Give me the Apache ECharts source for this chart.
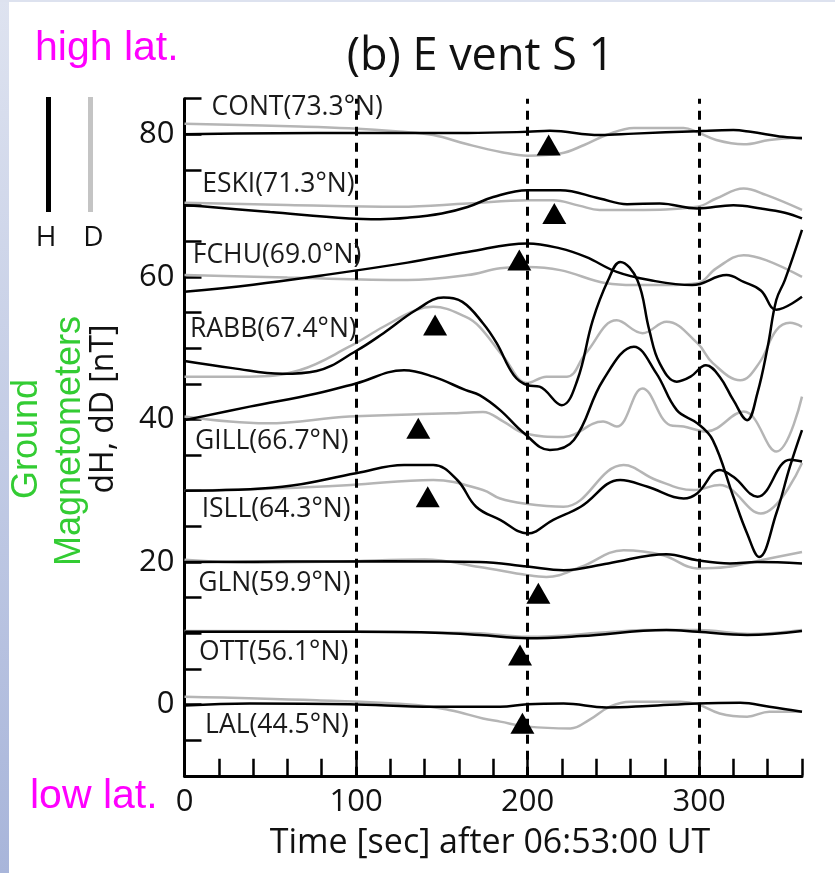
<!DOCTYPE html>
<html><head><meta charset="utf-8">
<script src="https://cdn.jsdelivr.net/npm/echarts@6/dist/echarts.min.js"></script>
<style>html,body{margin:0;padding:0;background:#fff}#c{width:835px;height:873px}</style>
</head><body><div id="c"></div>
<script>
// ---- data (time [s], value [nT] incl. station offset) ----
const stations = ['CONT(73.3°N)','ESKI(71.3°N)','FCHU(69.0°N)','RABB(67.4°N)','GILL(66.7°N)','ISLL(64.3°N)','GLN(59.9°N)','OTT(56.1°N)','LAL(44.5°N)'];
const labelAnchors = [[15.8,83.75],[10.4,73.0],[4.8,63.06],[3.2,52.68],[6.1,36.87],[10.0,27.43],[8.0,17.0],[8.5,7.32],[12.0,-2.97]];
const onsets = [[212.3,78.5],[215.6,68.9],[195.2,62.36],[146.1,53.24],[136.3,38.75],[141.8,29.15],[206.3,15.6],[195.6,6.94],[197,-2.64]];
const xLabelValues = [0,100,200,300];
const yLabelValues = [0,20,40,60,80];
const dashedTimes = [100,200,300];

const contH = [[0,80.0],[30,80.1],[125,80.2],[165,80.2],[200,80.35],[213,80.5],[242,79.9],[262,80.1],[299,80.45],[320,80.6],[330,80.35],[349,79.65],[360,79.45]];
const contD = [[0,81.5],[67,81.1],[96,80.85],[125,80.4],[145,79.9],[165,78.6],[185,77.5],[200,77.0],[219,77.3],[233,78.5],[246,79.9],[262,80.9],[291,80.9],[299,80.3],[310,79.2],[326,78.6],[341,79.2],[360,79.6]];
const eskiH = [[0,70.05],[10,69.9],[50,69.1],[96,68.2],[114,68.1],[130,68.3],[150,68.9],[165,69.8],[180,71.2],[200,72.15],[219,72.15],[242,71.0],[258,70.2],[277,70.3],[299,69.6],[320,70.05],[336,69.6],[350,69.0],[360,68.2]];
const eskiD = [[0,70.4],[60,70.1],[125,69.85],[165,70.3],[200,70.75],[215,70.75],[230,70.0],[242,69.4],[262,69.4],[299,69.85],[310,71.0],[326,72.4],[339,71.5],[360,69.4]];
const fchuH = [[0,57.9],[40,58.9],[80,60.2],[130,62.0],[165,63.5],[200,64.7],[219,64.0],[234,62.8],[252,60.7],[271,59.55],[296,58.85],[316,60.25],[326,59.3],[336,58.1],[345,55.4],[360,57.2]];
const fchuD = [[0,60.25],[60,59.9],[130,59.55],[165,60.25],[184,61.2],[200,61.4],[219,60.95],[246,59.1],[262,58.85],[281,58.85],[299,59.1],[310,61.2],[326,63.05],[339,62.35],[360,60.0]];
const rabbH = [[0,48.2],[28,47.2],[57,46.4],[77,46.8],[100,49.6],[116,52.1],[135,55.35],[151,57.1],[162,56.5],[174,53.5],[182,50.7],[192,46.2],[200,44.8],[207,44.6],[220,42.0],[229,45.5],[238,53.9],[247,59.55],[254,62.1],[264,59.55],[271,52.5],[277,47.9],[287,45.3],[295,46.0],[304,47.6],[312,46.0],[320,42.7],[328,39.9],[334,43.7],[340,50.2],[345,56.75],[350,59.55],[360,66.6]];
const rabbD = [[0,46.0],[38,46.0],[67,46.9],[96,50.2],[116,53.0],[135,55.35],[145,55.8],[164,54.4],[172,53.0],[186,48.8],[200,45.1],[211,46.0],[223,46.0],[234,49.3],[252,53.9],[267,52.1],[281,53.7],[299,50.7],[308,47.9],[324,45.5],[335,47.9],[345,52.5],[353,53.55],[360,53.0]];
const gillH = [[0,39.9],[38,41.8],[77,43.65],[100,45.05],[128,46.9],[145,46.0],[164,44.1],[172,43.4],[184,41.3],[198,38.05],[213,35.7],[227,37.1],[244,45.5],[262,50.2],[275,46.5],[287,41.3],[299,39.45],[308,37.1],[320,29.15],[328,24.0],[335,20.7],[345,26.8],[353,33.4],[360,38.5]];
const gillD = [[0,40.4],[48,39.45],[96,40.4],[155,40.85],[174,41.05],[186,39.7],[198,38.05],[221,37.55],[244,39.7],[252,39.0],[267,44.35],[283,39.2],[291,39.0],[304,38.3],[326,41.1],[345,35.5],[360,43.2]];
const isllH = [[0,30.0],[57,30.55],[100,32.45],[128,33.6],[145,33.6],[159,31.5],[170,27.75],[184,25.9],[200,24.0],[215,25.9],[231,27.75],[254,31.5],[270,30.55],[291,28.9],[299,29.65],[312,32.9],[320,31.95],[334,29.15],[353,34.35],[360,34.1]];
const isllD = [[0,30.0],[57,30.35],[97,30.8],[145,31.5],[174,30.1],[184,28.9],[198,28.2],[221,27.75],[256,33.6],[275,31.5],[297,30.1],[312,30.8],[336,26.8],[360,33.9]];
const glnH = [[0,20.0],[60,20.05],[120,20.1],[172,20.0],[200,19.35],[221,18.85],[247,19.8],[281,21.1],[299,20.25],[318,19.8],[334,20.0],[360,19.8]];
const glnD = [[0,20.3],[40,19.9],[90,20.05],[140,20.35],[172,19.3],[200,18.15],[211,17.9],[231,19.3],[256,21.65],[279,20.95],[299,19.1],[316,19.3],[336,20.25],[360,21.4]];
const ottH = [[0,10.2],[100,10.2],[150,10.05],[172,9.75],[200,9.3],[231,9.6],[281,10.45],[299,10.2],[328,9.75],[360,10.3]];
const ottD = [[0,10.3],[100,10.25],[150,10.1],[172,10.0],[200,9.5],[250,10.2],[270,10.45],[299,10.45],[330,9.9],[360,10.45]];
const lalH = [[0,-0.15],[38,0.15],[96,0.05],[145,-0.3],[184,-0.3],[200,0.05],[221,0.15],[246,-0.4],[270,-0.2],[299,0.15],[324,0.25],[341,-0.3],[360,-1.0]];
const lalD = [[0,1.1],[77,0.6],[135,-0.05],[155,-0.8],[174,-1.95],[184,-2.4],[200,-3.1],[225,-3.35],[236,-2.15],[248,-0.3],[260,0.4],[289,0.4],[299,0.05],[312,-1.25],[328,-1.7],[341,-1.0],[360,-1.0]];

const hTraces = [contH, eskiH, fchuH, rabbH, gillH, isllH, glnH, ottH, lalH];
const dTraces = [contD, eskiD, fchuD, rabbD, gillD, isllD, glnD, ottD, lalD];

// ---- chart ----
const chart = echarts.init(document.getElementById('c'), null, {renderer:'canvas'});
const TXT = '#111';
const series = [];
dTraces.forEach((d, i) => {
  series.push({type:'line', name: stations[i] + ' D', data:d, smooth:0.4, showSymbol:false, z:2,
    lineStyle:{color:'#b5b5b5', width:2.5}, silent:true});
});
hTraces.forEach((d, i) => {
  series.push({type:'line', name: stations[i] + ' H', data:d, smooth:0.4, showSymbol:false, z:3,
    lineStyle:{color:'#000', width:2.5}, silent:true});
});
series.push({type:'line', data:[], z:4, silent:true,
  markLine:{silent:true, symbol:['none','none'], label:{show:false},
    lineStyle:{color:'#000', width:3, type:[9,7], opacity:1},
    data: dashedTimes.map(t => ({xAxis:t}))}});
series.push({type:'scatter', data:onsets, symbol:'triangle', symbolSize:[24,21], z:5,
  itemStyle:{color:'#000', opacity:1}, silent:true});
series.push({type:'scatter', z:5, silent:true, symbolSize:0,
  itemStyle:{opacity:1},
  data: labelAnchors.map((p, i) => ({value:p, name:stations[i]})),
  label:{show:true, position:'right', distance:0, formatter:'{b}', opacity:1,
    fontFamily:'Open Sans', fontSize:26.5, color:'#1a1a1a'}});

const greenC = '#33cc33';
chart.setOption({
  animation:false,
  backgroundColor:'#fff',
  grid:{left:184.5, right:33, top:98.7, bottom:97.2, containLabel:false},
  xAxis:{type:'value', min:0, max:360, interval:20,
    axisLine:{onZero:false, lineStyle:{color:'#000', width:3}},
    axisTick:{inside:true, length:17, lineStyle:{color:'#000', width:2.5}},
    axisLabel:{margin:11, fontFamily:'Open Sans', fontSize:31, color:TXT,
      formatter: v => xLabelValues.includes(v) ? String(v) : ''},
    splitLine:{show:false}},
  yAxis:{type:'value', min:-10, max:85, interval:5,
    axisLine:{show:true, onZero:false, lineStyle:{color:'#000', width:3}},
    axisTick:{show:true, inside:true, length:17, lineStyle:{color:'#000', width:2.5}},
    axisLabel:{margin:10, fontFamily:'Open Sans', fontSize:31, color:TXT,
      formatter: v => yLabelValues.includes(v) ? String(v) : ''},
    splitLine:{show:false}},
  graphic:[
    {type:'rect', shape:{x:0,y:0,width:9,height:873}, silent:true,
      style:{fill:new echarts.graphic.LinearGradient(0,0,0,1,[{offset:0,color:'#dee3f0'},{offset:1,color:'#a8b5da'}])}},
    {type:'rect', shape:{x:0,y:0,width:835,height:2}, silent:true, style:{fill:'#dde2ef'}},
    {type:'text', x:480.5, y:57, silent:true, style:{text:'(b) E vent S 1', fontFamily:'Open Sans', fontSize:45, fill:TXT, align:'center', verticalAlign:'middle'}},
    {type:'text', x:35, y:49, silent:true, style:{text:'high lat.', fontFamily:'Liberation Sans', fontSize:41, fill:'#ff00ff', align:'left', verticalAlign:'middle'}},
    {type:'text', x:30, y:797, silent:true, style:{text:'low lat.', fontFamily:'Liberation Sans', fontSize:41, fill:'#ff00ff', align:'left', verticalAlign:'middle'}},
    {type:'rect', shape:{x:46,y:97,width:5,height:115}, silent:true, style:{fill:'#000'}},
    {type:'rect', shape:{x:88,y:97,width:5,height:115}, silent:true, style:{fill:'#c4c4c4'}},
    {type:'text', x:46, y:238, silent:true, style:{text:'H', fontFamily:'Open Sans', fontSize:28, fill:TXT, align:'center', verticalAlign:'middle'}},
    {type:'text', x:93.5, y:238, silent:true, style:{text:'D', fontFamily:'Open Sans', fontSize:28, fill:TXT, align:'center', verticalAlign:'middle'}},
    {type:'text', x:27, y:439, rotation:Math.PI/2, silent:true, style:{text:'Ground', fontFamily:'Liberation Sans', fontSize:36, fill:greenC, align:'center', verticalAlign:'middle'}},
    {type:'text', x:70, y:441, rotation:Math.PI/2, silent:true, style:{text:'Magnetometers', fontFamily:'Liberation Sans', fontSize:36, fill:greenC, align:'center', verticalAlign:'middle'}},
    {type:'text', x:104, y:409, rotation:Math.PI/2, silent:true, style:{text:'dH, dD [nT]', fontFamily:'Open Sans', fontSize:32, fill:TXT, align:'center', verticalAlign:'middle'}},
    {type:'text', x:490, y:843, silent:true, style:{text:'Time [sec] after 06:53:00 UT', fontFamily:'Open Sans', fontSize:34, fill:TXT, align:'center', verticalAlign:'middle'}}
  ],
  series: series
});
</script></body></html>
